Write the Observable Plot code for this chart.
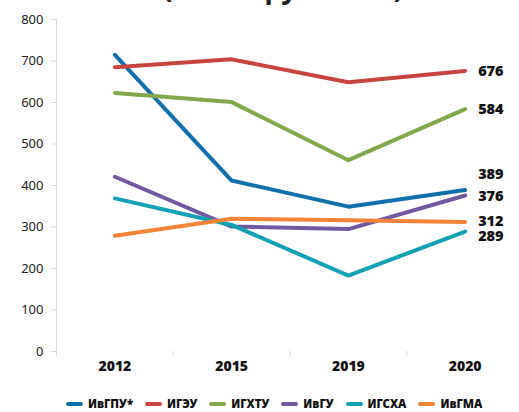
<!DOCTYPE html>
<html><head><meta charset="utf-8">
<script src="https://cdn.jsdelivr.net/npm/d3@7"></script>
<script src="https://cdn.jsdelivr.net/npm/@observablehq/plot@0.6"></script>
<style>
body{margin:0;background:#fff;font-family:"Noto Sans",sans-serif;}
#wrap{position:relative;width:519px;height:412px;overflow:hidden;}
#title{position:absolute;left:0;width:566px;top:-32px;text-align:center;font:bold 28px "Noto Sans",sans-serif;color:#222;white-space:nowrap;}
#chart{position:absolute;left:0;top:0;}
#legend{position:absolute;left:0;top:396px;width:519px;display:flex;justify-content:flex-start;font:900 11.5px "Noto Sans",sans-serif;color:#111;padding-left:66px;box-sizing:border-box}
#legend span.it{display:flex;align-items:center;margin-right:12px}
#legend span.sw{display:inline-block;width:17px;height:4px;border-radius:2px;margin-right:5px}
</style></head>
<body><div id="wrap"><div id="title">(в тыс. руб./чел.)</div><div id="chart"></div><div id="legend"></div></div>
<script>
const years = ["2012","2015","2019","2020"];
const series = ["ИвГПУ*","ИГЭУ","ИГХТУ","ИвГУ","ИГСХА","ИвГМА"];
const colors = ["#1170aa","#c8453f","#82a84b","#72599f","#13a1b3","#f2843a"];
const ivgpu = [715, 412, 349, 389];
const igeu = [685, 704, 649, 676];
const igxtu = [623, 601, 461, 584];
const ivgu = [421, 301, 295, 376];
const igsxa = [369, 305, 183, 289];
const ivgma = [279, 320, 316, 312];
const yTicks = [0,100,200,300,400,500,600,700,800];

const values = [ivgpu, igeu, igxtu, ivgu, igsxa, ivgma];
const labelDy = [-16, 0, 0, 1, 5, -1];
const data = [];
series.forEach((s, si) => values[si].forEach((v, i) => data.push({s, i, v})));
const last = series.map((s, si) => ({s, si, i: years.length - 1, v: values[si][years.length - 1]}));

const plot = Plot.plot({
  width: 519, height: 385,
  marginTop: 19, marginBottom: 34, marginLeft: 56, marginRight: 0,
  style: {fontFamily: "Noto Sans, sans-serif", background: "transparent", overflow: "visible"},
  x: {domain: [-0.5, years.length - 0.5], range: [56, 523]},
  y: {domain: [0, 800]},
  color: {domain: series, range: colors},
  marks: [
    Plot.gridY(yTicks, {stroke: "#d9d9d9", strokeOpacity: 1, strokeWidth: 1, x1: 56, x2: 523}),
    Plot.ruleX([-0.5], {stroke: "#d9d9d9"}),
    Plot.axisY({ticks: yTicks, tickSize: 5, tickPadding: 8, stroke: "#d9d9d9", fontSize: 13, color: "#222", label: null}),
    Plot.axisX({ticks: d3.range(years.length + 1).map(d => d - 0.5), tickSize: 5, tickFormat: () => "", stroke: "#d9d9d9", label: null}),
    Plot.axisX({ticks: d3.range(years.length), tickSize: 0, tickPadding: 10, tickFormat: i => years[i], fontSize: 14, fontWeight: 900, color: "#111", label: null}),
    Plot.line(data, {x: "i", y: "v", z: "s", stroke: "s", strokeWidth: 4, strokeLinejoin: "round", strokeLinecap: "round"}),
    Plot.text(last, {x: "i", y: "v", text: d => String(d.v), dx: 13, textAnchor: "start", fontSize: 14.5, fontWeight: 900, fill: "#111", className: "endlabels"})
  ]
});
document.getElementById("chart").appendChild(plot);
// per-label vertical offsets
d3.select(plot).selectAll("g.endlabels text, g[aria-label=text] text").each(function(d, k) {
  d3.select(this).attr("dy", labelDy[k] + "px");
});
const lg = d3.select("#legend");
series.forEach((s, si) => {
  const it = lg.append("span").attr("class", "it");
  it.append("span").attr("class", "sw").style("background", colors[si]);
  it.append("span").text(s);
});
</script></body></html>
